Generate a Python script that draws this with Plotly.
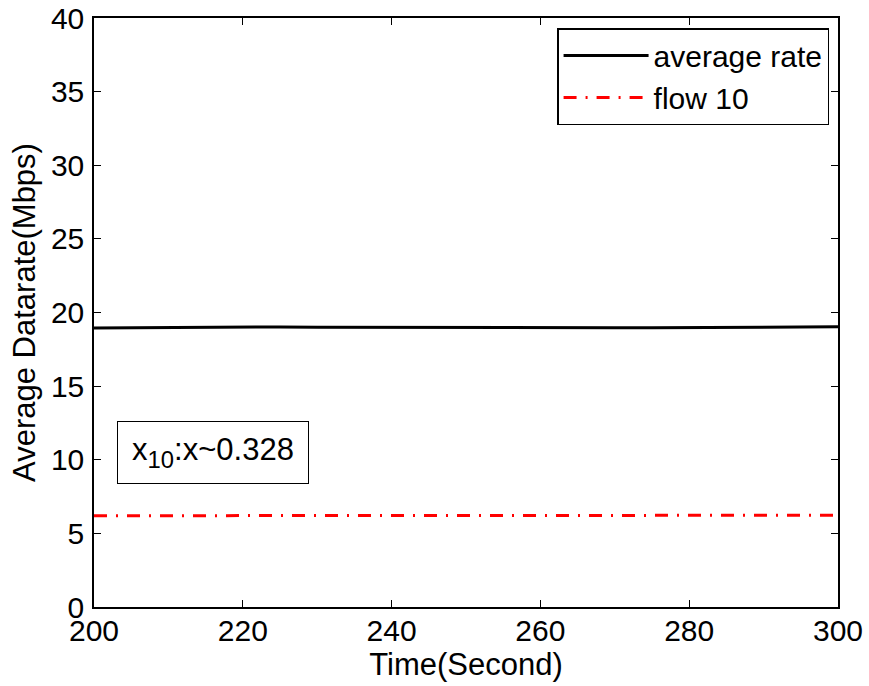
import plotly.graph_objects as go

time_s = [200, 205, 210, 215, 220, 225, 230, 235, 240, 245, 250, 255, 260, 265, 270, 275, 280, 285, 290, 295, 300]
avg_rate = [18.95, 18.97, 18.98, 19.0, 19.03, 19.02, 19.0, 18.99, 18.98, 18.97, 18.96, 18.95, 18.94, 18.95, 18.96, 18.97, 18.98, 18.99, 19.0, 19.01, 19.03]
flow10 = [6.2, 6.2, 6.21, 6.21, 6.22, 6.22, 6.22, 6.23, 6.23, 6.24, 6.25, 6.25, 6.25, 6.24, 6.24, 6.24, 6.23, 6.23, 6.23, 6.23, 6.23]
x_ticks = [200, 220, 240, 260, 280, 300]
y_ticks = [0, 5, 10, 15, 20, 25, 30, 35, 40]

FONT = "Liberation Sans, Arial, sans-serif"

fig = go.Figure()
fig.add_trace(go.Scatter(x=time_s, y=avg_rate, mode="lines", name="average rate",
                         line=dict(color="black", width=3)))
fig.add_trace(go.Scatter(x=time_s, y=flow10, mode="lines", name="flow 10",
                         line=dict(color="red", width=3, dash="13px,9px,2px,9px")))

axis_common = dict(showline=True, linecolor="black", linewidth=1.5, mirror="ticks",
                   ticks="inside", ticklen=7, tickcolor="black", showgrid=False, zeroline=False,
                   automargin=False,
                   tickfont=dict(family=FONT, size=30, color="black"))

fig.update_xaxes(range=[200, 300], tickvals=x_ticks, ticklabelstandoff=-4,
                 title=dict(text="Time(Second)", font=dict(family=FONT, size=31, color="black"), standoff=0),
                 **axis_common)
fig.update_yaxes(range=[0, 40], tickvals=y_ticks, ticklabelstandoff=2,
                 title=dict(text="Average Datarate(Mbps)", font=dict(family=FONT, size=31, color="black"), standoff=6),
                 **axis_common)

fig.add_annotation(xref="paper", yref="paper", x=0.031, y=0.209, xanchor="left", yanchor="bottom",
                   text="x<span style=\"font-size:34px\"><sub>10</sub></span>:x~0.328", showarrow=False,
                   font=dict(family=FONT, size=31, color="black"),
                   width=182, height=53,
                   bordercolor="black", borderwidth=1, borderpad=4, bgcolor="white")

fig.update_layout(
    width=869, height=686,
    margin=dict(l=94, r=31, t=18, b=79),
    plot_bgcolor="white", paper_bgcolor="white",
    font=dict(family=FONT, size=30, color="black"),
    legend=dict(x=0.988, y=0.983, xanchor="right", yanchor="top",
                bordercolor="black", borderwidth=1.5, bgcolor="white",
                font=dict(family=FONT, size=30, color="black"),
                itemwidth=85, tracegroupgap=0),
    showlegend=True,
)

fig.write_html("out.html")
